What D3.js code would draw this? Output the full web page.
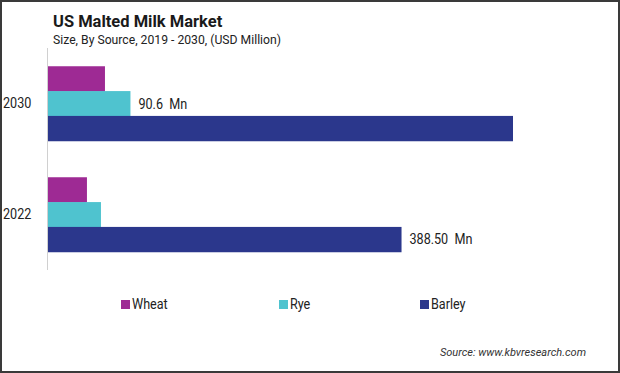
<!DOCTYPE html>
<html><head><meta charset="utf-8">
<script src="https://cdn.jsdelivr.net/npm/d3@7"></script>
<style>body{margin:0;background:#fff}svg{display:block}</style>
</head><body>
<svg id="c" width="620" height="373"></svg>
<script>
const categories = ["2030", "2022"];
const seriesNames = ["Wheat", "Rye", "Barley"];
const wheat = [62.6, 42.8];
const rye = [90.6, 58.2];
const barley = [511.0, 388.5];
const labels = [{cat: "2030", series: "Rye", text: "90.6\u00a0 Mn"}, {cat: "2022", series: "Barley", text: "388.50\u00a0 Mn"}];
const colors = ["#9e2a94", "#4fc3cf", "#2b378c"];

const values = {Wheat: wheat, Rye: rye, Barley: barley};
const svg = d3.select("#c");
const font = "Roboto, sans-serif";

svg.append("rect").attr("x", 1).attr("y", 1).attr("width", 618).attr("height", 371)
  .attr("fill", "#fff").attr("stroke", "#3a3a3a").attr("stroke-width", 2);

svg.append("text").attr("x", 53).attr("y", 27).attr("font-family", "Roboto, sans-serif")
  .attr("font-weight", "bold").attr("font-size", 16.5).attr("fill", "#1a1a1a").text("US Malted Milk Market");
svg.append("text").attr("x", 53).attr("y", 44).attr("font-family", "Roboto, sans-serif")
  .attr("font-size", 12.2).attr("fill", "#222").text("Size, By Source, 2019 - 2030, (USD Million)");

const x0 = 48;
const x = d3.scaleLinear().domain([0, 511]).range([x0, 513]);
const y = d3.scaleBand().domain(categories).range([48, 270]).paddingInner(0.3).paddingOuter(0.15);
const ys = d3.scaleBand().domain(seriesNames).range([0, 74.5]);

svg.append("line").attr("x1", 47.5).attr("x2", 47.5).attr("y1", 48).attr("y2", 270)
  .attr("stroke", "#d0d0d0").attr("stroke-width", 1);

function narrowText(xp, yp, str, size) {
  return svg.append("text").attr("transform", `translate(${xp},${yp}) scale(0.9,1)`)
    .attr("dy", "0.35em").attr("font-family", font).attr("font-size", size).attr("fill", "#222").text(str);
}

const g = svg.append("g");
categories.forEach((c, ci) => {
  const base = y(c) + (y.bandwidth() - 74.5) / 2;
  seriesNames.forEach((s, si) => {
    g.append("rect").attr("x", x(0)).attr("y", base + ys(s))
      .attr("width", x(values[s][ci]) - x(0)).attr("height", ys.bandwidth() + 0.5)
      .attr("fill", colors[si]);
  });
  narrowText(3, base + 37, c, 14);
});

labels.forEach(l => {
  const ci = categories.indexOf(l.cat);
  const base = y(l.cat) + (y.bandwidth() - 74.5) / 2;
  narrowText(x(values[l.series][ci]) + 8, base + ys(l.series) + ys.bandwidth() / 2 + (l.series === "Rye" ? 1 : 0), l.text, 14);
});

const legX = [121, 279, 420];
seriesNames.forEach((s, i) => {
  svg.append("rect").attr("x", legX[i]).attr("y", 300).attr("width", 9).attr("height", 9).attr("fill", colors[i]);
  narrowText(legX[i] + 11, 304.5, s, 14);
});

svg.append("text").attr("x", 586).attr("y", 356).attr("text-anchor", "end")
  .attr("font-family", font).attr("font-style", "italic").attr("font-size", 11).attr("fill", "#333")
  .text("Source: www.kbvresearch.com");
</script>
</body></html>
